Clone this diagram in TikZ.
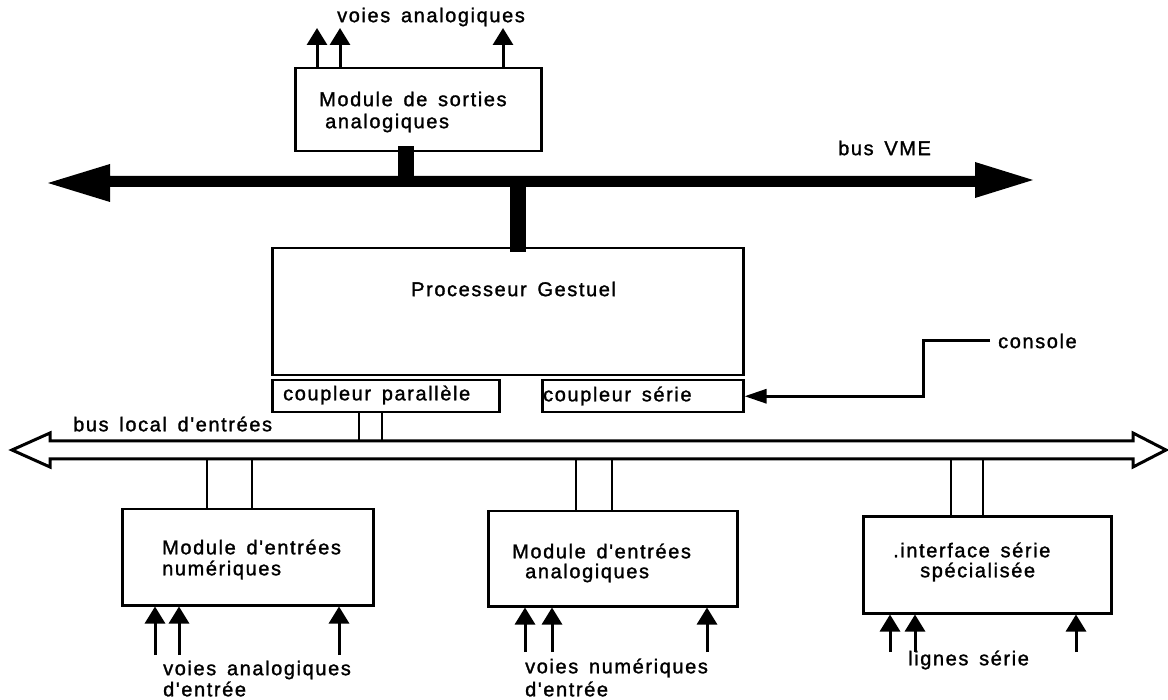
\documentclass[tikz,border=0pt]{standalone}
\usepackage{fontspec}
\setmainfont{Liberation Sans}[LetterSpace=8,WordSpace={1.5},Ligatures=TeXOff,FakeBold=1.4]
\usetikzlibrary{arrows.meta}
\begin{document}
\begin{tikzpicture}[x=1pt,y=-1pt,
  box/.style={draw,line width=2.5pt,inner sep=0pt,anchor=north west},
  lbl/.style={anchor=west,inner sep=0pt,font=\fontsize{20}{23}\selectfont},
  sig/.style={line width=3pt,-{Triangle[width=20pt,length=17pt]}},
  wire/.style={line width=2.5pt},
  vmeconn/.style={line width=16pt},
  bushollow/.style={line width=3pt,line join=miter}]
\useasboundingbox (0,0) rectangle (1168,700);
% boxes
\node[box,minimum width=246pt,minimum height=83pt] (sm) at (294,67) {};
\node[box,minimum width=471pt,minimum height=127pt] (pg) at (271,247) {};
\node[box,minimum width=227pt,minimum height=32pt] (cp) at (271,379) {};
\node[box,minimum width=201pt,minimum height=32pt] (cs) at (541,379) {};
\node[box,minimum width=251pt,minimum height=96pt] (m1) at (121,508) {};
\node[box,minimum width=249pt,minimum height=95pt] (m2) at (487,510) {};
\node[box,minimum width=248pt,minimum height=97pt] (m3) at (862,515) {};
% bus coordinates
\coordinate (vme) at (0,181);
\coordinate (busT) at (0,441);
\coordinate (busB) at (0,459);
% VME bus
\fill (48,183) -- (110,164) -- (110,176) -- (975,176) -- (975,162) -- (1033,180)
  -- (975,198) -- (975,187) -- (110,187) -- (110,202) -- cycle;
\draw[vmeconn] ([yshift=6pt]sm.south -| 406,0) -- (406,0 |- vme);
\draw[vmeconn] (518,0 |- vme) -- ([yshift=-5pt]pg.north -| 518,0);
% local bus (hollow double arrow)
\draw[bushollow] (12,450) -- (50,433) -- (50,441) -- (1133,441) -- (1133,433) -- (1166,450)
  -- (1133,467) -- (1133,459) -- (50,459) -- (50,467) -- cycle;
\draw[wire] (359,0 |- cp.south) -- (359,0 |- busT);
\draw[wire] (382,0 |- cp.south) -- (382,0 |- busT);
\draw[wire] (207,0 |- busB) -- (207,0 |- m1.north);
\draw[wire] (252,0 |- busB) -- (252,0 |- m1.north);
\draw[wire] (576,0 |- busB) -- (576,0 |- m2.north);
\draw[wire] (612,0 |- busB) -- (612,0 |- m2.north);
\draw[wire] (951,0 |- busB) -- (951,0 |- m3.north);
\draw[wire] (983,0 |- busB) -- (983,0 |- m3.north);
% output arrows top
\coordinate (o1) at (317,28); \coordinate (o2) at (340,28); \coordinate (o3) at (503,28);
\draw[sig] (o1 |- sm.north) -- (o1);
\draw[sig] (o2 |- sm.north) -- (o2);
\draw[sig] (o3 |- sm.north) -- (o3);
% input arrows bottom
\coordinate (i1) at (155,655); \coordinate (i2) at (179,655); \coordinate (i3) at (339,655);
\coordinate (i4) at (525,652); \coordinate (i5) at (552,652); \coordinate (i6) at (707,652);
\coordinate (i7) at (890,652); \coordinate (i8) at (915,652); \coordinate (i9) at (1076,652);
\draw[sig] (i1) -- (i1 |- m1.south);
\draw[sig] (i2) -- (i2 |- m1.south);
\draw[sig] (i3) -- (i3 |- m1.south);
\draw[sig] (i4) -- (i4 |- m2.south);
\draw[sig] (i5) -- (i5 |- m2.south);
\draw[sig] (i6) -- (i6 |- m2.south);
\draw[sig] (i7) -- (i7 |- m3.south);
\draw[sig] (i8) -- (i8 |- m3.south);
\draw[sig] (i9) -- (i9 |- m3.south);
% console
\coordinate (con) at (990,341);
\draw[line width=3pt,-{Triangle[width=14pt,length=22pt]}] (con) -- (923,341) -- (923,0 |- cs.east) -- (cs.east);
% texts
\node[lbl] (t1) at (337,17) {voies analogiques};
\node[lbl] (t2) at (319,99) {Module de sorties};
\node[lbl] (t3) at (325,123) {analogiques};
\node[lbl] (t4) at (838,148) {bus VME};
\node[lbl] (t5) at (411,289) {Processeur Gestuel};
\node[lbl] (t6) at (998,341) {console};
\node[lbl] (t7) at (283,395) {coupleur parallèle};
\node[lbl] (t8) at (543,396) {coupleur série};
\node[lbl] (t9) at (73,424) {bus local d'entrées};
\node[lbl] (t10) at (162,547) {Module d'entrées};
\node[lbl] (t11) at (162,570) {numériques};
\node[lbl] (t12) at (512,551) {Module d'entrées};
\node[lbl] (t13) at (525,573) {analogiques};
\node[lbl] (t14) at (893,550) {.interface série};
\node[lbl] (t15) at (920,572) {spécialisée};
\node[lbl] (t16) at (163,670) {voies analogiques};
\node[lbl] (t17) at (163,689) {d'entrée};
\node[lbl] (t18) at (525,668) {voies numériques};
\node[lbl] (t19) at (525,689) {d'entrée};
\node[lbl] (t20) at (908,660) {lignes série};
\end{tikzpicture}
\end{document}
